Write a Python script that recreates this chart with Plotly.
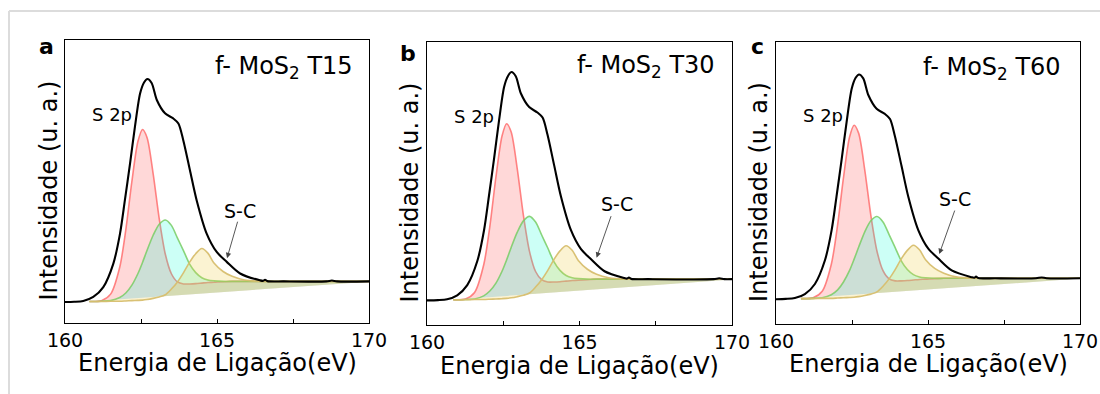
import plotly.graph_objects as go

# ---------------- data ----------------
# intensity in arbitrary units, 0 = bottom of frame, 1 = top of frame
PANEL_LABELS = ["a", "b", "c"]
SAMPLES = ["T15", "T30", "T60"]

# measured envelope (black)
ENV_E_a = [160.0, 160.3, 160.6, 160.93, 161.26, 161.59, 161.81, 161.97, 162.14, 162.3, 162.47, 162.6, 162.71, 162.85,
           163.02, 163.29, 163.56, 163.73, 163.89, 164.11, 164.33, 164.66, 164.99, 165.32, 165.76, 166.41,
           166.52, 166.58, 166.66, 167.2, 168.6, 168.78, 168.95, 170.0]
ENV_a = [0.074, 0.075, 0.078, 0.092, 0.127, 0.210, 0.316, 0.434, 0.564, 0.693, 0.811, 0.850, 0.862, 0.848,
         0.788, 0.741, 0.723, 0.705, 0.646, 0.540, 0.434, 0.316, 0.251, 0.216, 0.175, 0.151,
         0.149, 0.153, 0.148, 0.147, 0.147, 0.150, 0.147, 0.147]
ENV_E_b = [160.0, 160.36, 160.66, 160.99, 161.32, 161.65, 161.87, 162.03, 162.2, 162.36, 162.53, 162.66, 162.77, 162.91,
           163.08, 163.35, 163.62, 163.79, 163.95, 164.17, 164.39, 164.72, 165.05, 165.38, 165.82, 166.47,
           166.56, 166.62, 166.7, 167.26, 169.4, 169.58, 169.75, 170.0]
ENV_b = [0.087, 0.088, 0.091, 0.105, 0.141, 0.226, 0.335, 0.455, 0.589, 0.721, 0.842, 0.881, 0.894, 0.879,
         0.818, 0.770, 0.751, 0.733, 0.673, 0.564, 0.455, 0.335, 0.268, 0.232, 0.190, 0.166,
         0.164, 0.168, 0.163, 0.162, 0.162, 0.165, 0.162, 0.162]
ENV_E_c = [160.0, 160.32, 160.62, 160.95, 161.28, 161.61, 161.83, 161.99, 162.16, 162.32, 162.49, 162.62, 162.73, 162.87,
           163.04, 163.31, 163.58, 163.75, 163.91, 164.13, 164.35, 164.68, 165.01, 165.34, 165.78, 166.43,
           166.52, 166.58, 166.66, 167.22, 168.55, 168.74, 168.9, 170.0]
ENV_c = [0.088, 0.089, 0.092, 0.106, 0.142, 0.226, 0.333, 0.452, 0.584, 0.714, 0.834, 0.873, 0.885, 0.871,
         0.811, 0.763, 0.745, 0.727, 0.667, 0.560, 0.452, 0.333, 0.267, 0.232, 0.190, 0.166,
         0.164, 0.168, 0.163, 0.162, 0.162, 0.165, 0.162, 0.162]

# fitted components
E_a = [160.8, 161.2, 161.5, 161.8, 162.0, 162.2, 162.4, 162.55, 162.7, 162.9, 163.1, 163.3, 163.5, 163.7,
       163.9, 164.1, 164.3, 164.5, 164.7, 164.9, 165.2, 165.5, 165.9, 166.5, 167.5, 170.0]
E_b = [160.86, 161.26, 161.56, 161.86, 162.06, 162.26, 162.46, 162.61, 162.76, 162.96, 163.16, 163.36, 163.56, 163.76,
       163.96, 164.16, 164.36, 164.56, 164.76, 164.96, 165.26, 165.56, 165.96, 166.56, 167.56, 170.0]
E_c = [160.82, 161.22, 161.52, 161.82, 162.02, 162.22, 162.42, 162.57, 162.72, 162.92, 163.12, 163.32, 163.52, 163.72,
       163.92, 164.12, 164.32, 164.52, 164.72, 164.92, 165.22, 165.52, 165.92, 166.52, 167.52, 170.0]

RED_a = [0.076, 0.079, 0.102, 0.197, 0.329, 0.500, 0.642, 0.684, 0.655, 0.527, 0.368, 0.243, 0.174, 0.145,
         0.138, 0.138, 0.139, 0.141, 0.143, 0.144, 0.146, 0.147, 0.147, 0.147, 0.147, 0.147]
RED_b = [0.089, 0.092, 0.115, 0.213, 0.348, 0.523, 0.668, 0.711, 0.682, 0.551, 0.388, 0.260, 0.189, 0.160,
         0.152, 0.152, 0.153, 0.155, 0.157, 0.158, 0.160, 0.162, 0.162, 0.162, 0.162, 0.162]
RED_c = [0.090, 0.093, 0.116, 0.212, 0.346, 0.519, 0.663, 0.705, 0.676, 0.546, 0.385, 0.259, 0.189, 0.160,
         0.153, 0.153, 0.154, 0.156, 0.158, 0.159, 0.161, 0.162, 0.162, 0.162, 0.162, 0.162]

GREEN_a = [0.076, 0.077, 0.079, 0.090, 0.106, 0.134, 0.175, 0.214, 0.257, 0.310, 0.349, 0.364, 0.345, 0.300,
           0.255, 0.208, 0.178, 0.160, 0.152, 0.149, 0.147, 0.147, 0.147, 0.147, 0.147, 0.147]
GREEN_b = [0.089, 0.090, 0.092, 0.103, 0.120, 0.148, 0.190, 0.230, 0.274, 0.328, 0.368, 0.384, 0.364, 0.318,
           0.272, 0.224, 0.193, 0.175, 0.167, 0.164, 0.162, 0.162, 0.162, 0.162, 0.162, 0.162]
GREEN_c = [0.090, 0.091, 0.093, 0.104, 0.120, 0.149, 0.190, 0.230, 0.273, 0.327, 0.366, 0.381, 0.362, 0.317,
           0.271, 0.224, 0.193, 0.175, 0.167, 0.164, 0.162, 0.162, 0.162, 0.162, 0.162, 0.162]

YELLOW_a = [0.076, 0.076, 0.077, 0.077, 0.078, 0.079, 0.080, 0.081, 0.083, 0.087, 0.092, 0.100, 0.120, 0.145,
            0.178, 0.215, 0.245, 0.263, 0.247, 0.212, 0.182, 0.165, 0.152, 0.147, 0.147, 0.147]
YELLOW_b = [0.089, 0.089, 0.090, 0.090, 0.091, 0.092, 0.093, 0.094, 0.096, 0.100, 0.105, 0.113, 0.134, 0.160,
            0.193, 0.231, 0.262, 0.280, 0.264, 0.228, 0.197, 0.179, 0.167, 0.162, 0.162, 0.162]
YELLOW_c = [0.090, 0.090, 0.091, 0.091, 0.092, 0.093, 0.094, 0.095, 0.097, 0.101, 0.106, 0.114, 0.134, 0.160,
            0.193, 0.231, 0.261, 0.279, 0.263, 0.228, 0.197, 0.180, 0.167, 0.162, 0.162, 0.162]

# straight baseline under the components: [(E_start, I_start), (E_end, I_end)]
BASE_a = [(160.8, 0.076), (170.0, 0.146)]
BASE_b = [(160.86, 0.089), (170.0, 0.161)]
BASE_c = [(160.82, 0.090), (170.0, 0.161)]

# label positions (energy, intensity)
S2P_POS = [(161.56, 0.735), (161.53, 0.738), (161.53, 0.739)]
SC_POS = [(165.76, 0.395), (166.22, 0.426), (165.89, 0.444)]
SC_ARROW_HEAD = [(165.33, 0.229), (165.56, 0.238), (165.37, 0.248)]
SC_ARROW_TAIL_PX = [(11, -38), (15, -43), (16, -45)]
TITLE_POS = [(169.54, 0.904), (169.52, 0.914), (169.44, 0.906)]

X_TICKS = [160, 162.5, 165, 167.5, 170]
X_TICK_TEXT = ["160", "", "165", "", "170"]

# ---------------- layout geometry (pixels of a 1100x394 canvas) ----------------
W, H = 1100, 394
BOXES = [(65, 369, 40, 323), (427, 732, 42, 325), (776, 1080, 42, 324)]
LABEL_XY = [(46, 46), (408, 53), (757, 46)]
XTITLE_Y = [363, 366, 364]

FONT = "DejaVu Sans"
RED_FILL, RED_LINE = "rgba(255,100,100,0.25)", "rgba(255,110,110,0.85)"
GREEN_FILL, GREEN_LINE = "rgba(0,255,210,0.20)", "rgba(120,205,100,0.85)"
YELLOW_FILL, YELLOW_LINE = "rgba(240,210,80,0.26)", "rgba(215,190,110,0.95)"

panels = [
    (E_a, RED_a, GREEN_a, YELLOW_a, BASE_a, ENV_E_a, ENV_a),
    (E_b, RED_b, GREEN_b, YELLOW_b, BASE_b, ENV_E_b, ENV_b),
    (E_c, RED_c, GREEN_c, YELLOW_c, BASE_c, ENV_E_c, ENV_c),
]

fig = go.Figure()
annotations = []

for i, (E, red, green, yellow, base, envE, env) in enumerate(panels):
    sfx = "" if i == 0 else str(i + 1)
    xa, ya = "x" + sfx, "y" + sfx
    bx = [base[0][0], base[1][0]]
    by = [base[0][1], base[1][1]]
    for comp, fillc, linec in [(red, RED_FILL, RED_LINE), (green, GREEN_FILL, GREEN_LINE),
                               (yellow, YELLOW_FILL, YELLOW_LINE)]:
        fig.add_trace(go.Scatter(x=bx, y=by, mode="lines", line=dict(width=0, color="rgba(0,0,0,0)"),
                                 xaxis=xa, yaxis=ya, hoverinfo="skip"))
        fig.add_trace(go.Scatter(x=E, y=comp, mode="lines", fill="tonexty", fillcolor=fillc,
                                 line=dict(color=linec, width=1.6, shape="spline", smoothing=0.8),
                                 xaxis=xa, yaxis=ya, hoverinfo="skip"))
    fig.add_trace(go.Scatter(x=envE, y=env, mode="lines",
                             line=dict(color="black", width=2.1, shape="spline", smoothing=0.8),
                             xaxis=xa, yaxis=ya, hoverinfo="skip"))

    l, r, t, b = BOXES[i]
    axis_common = dict(showline=True, mirror=True, linecolor="black", linewidth=1.4, showgrid=False,
                       zeroline=False, automargin=False)
    fig.layout["xaxis" + sfx] = dict(domain=[l / W, r / W], anchor=ya, range=[160, 170],
                                     tickmode="array", tickvals=X_TICKS, ticktext=X_TICK_TEXT,
                                     ticks="inside", ticklen=4, tickwidth=1.2, tickcolor="black",
                                     tickfont=dict(family=FONT, size=19, color="black"), **axis_common)
    fig.layout["yaxis" + sfx] = dict(domain=[1 - b / H, 1 - t / H], anchor=xa, range=[0, 1],
                                     showticklabels=False, ticks="", **axis_common)

    # axis titles
    annotations.append(dict(text="Energia de Ligação(eV)", xref="paper", yref="paper",
                            x=(l + r) / 2 / W, y=1 - XTITLE_Y[i] / H, xanchor="center", yanchor="middle",
                            showarrow=False, font=dict(family=FONT, size=24, color="black")))
    annotations.append(dict(text="Intensidade (u. a.)", xref="paper", yref="paper",
                            x=(l - 17) / W, y=1 - ((t + b) / 2 + 9) / H, xanchor="center", yanchor="middle",
                            textangle=-90, showarrow=False, font=dict(family=FONT, size=24, color="black")))
    # panel letter
    annotations.append(dict(text="<b>%s</b>" % PANEL_LABELS[i], xref="paper", yref="paper",
                            x=LABEL_XY[i][0] / W, y=1 - LABEL_XY[i][1] / H, xanchor="center", yanchor="middle",
                            showarrow=False, font=dict(family=FONT, size=22, color="black")))
    # sample title
    annotations.append(dict(text="f- MoS<sub>2</sub> " + SAMPLES[i], xref=xa, yref=ya,
                            x=TITLE_POS[i][0], y=TITLE_POS[i][1], xanchor="right", yanchor="middle",
                            showarrow=False, font=dict(family=FONT, size=24, color="black")))
    # peak labels
    annotations.append(dict(text="S 2p", xref=xa, yref=ya, x=S2P_POS[i][0], y=S2P_POS[i][1],
                            xanchor="center", yanchor="middle", showarrow=False,
                            font=dict(family=FONT, size=18, color="black")))
    annotations.append(dict(text="S-C", xref=xa, yref=ya, x=SC_POS[i][0], y=SC_POS[i][1],
                            xanchor="center", yanchor="middle", showarrow=False,
                            font=dict(family=FONT, size=19, color="black")))
    annotations.append(dict(text="", xref=xa, yref=ya, x=SC_ARROW_HEAD[i][0], y=SC_ARROW_HEAD[i][1],
                            ax=SC_ARROW_TAIL_PX[i][0], ay=SC_ARROW_TAIL_PX[i][1], showarrow=True,
                            arrowhead=2, arrowsize=1.2, arrowwidth=0.9, arrowcolor="#444444"))

fig.update_layout(
    template="none",
    width=W, height=H, autosize=False, margin=dict(l=0, r=0, t=0, b=0, pad=0, autoexpand=False),
    paper_bgcolor="white", plot_bgcolor="white", showlegend=False,
    annotations=annotations,
    shapes=[
        dict(type="line", xref="paper", yref="paper", x0=9 / W, x1=1, y0=1 - 11 / H, y1=1 - 11 / H,
             line=dict(color="#dcdcdc", width=2)),
        dict(type="line", xref="paper", yref="paper", x0=9 / W, x1=9 / W, y0=0, y1=1 - 11 / H,
             line=dict(color="#dcdcdc", width=2)),
    ],
)

fig.write_html("out.html", config={"responsive": False, "displayModeBar": False},
               post_script="document.body.style.margin='0';document.body.style.overflow='hidden';")
